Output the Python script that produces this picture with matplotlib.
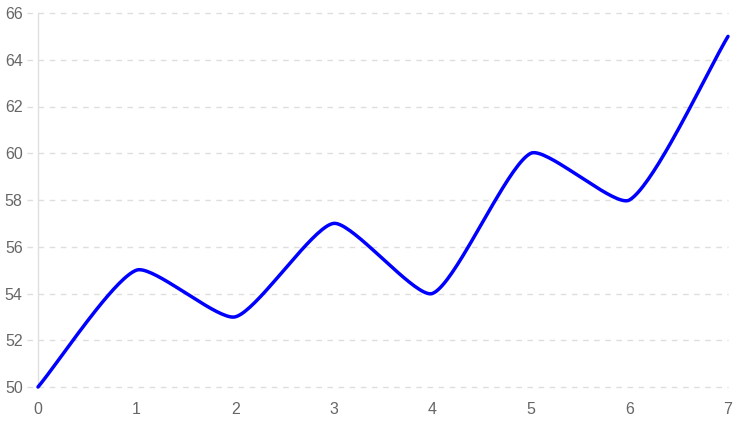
import numpy as np
import matplotlib.pyplot as plt

# Données
x_vals = [0, 1, 2, 3, 4, 5, 6, 7]
y_vals = [50, 55, 53, 57, 54, 60, 58, 65]
y_ticks = [50, 52, 54, 56, 58, 60, 62, 64, 66]

# Taille de la zone de tracé en pixels
W, H = 690, 374
sx, sy = W / 7, H / 16


# Courbe de Bézier façon Chart.js
def bezier_curve(x, y, tension=0.2, n=40):
    px = np.asarray(x, float) * sx
    py = np.asarray(y, float) * sy
    k = len(px)
    c_prev, c_next = [], []
    for i in range(k):
        p0 = (px[max(i - 1, 0)], py[max(i - 1, 0)])
        p1 = (px[i], py[i])
        p2 = (px[min(i + 1, k - 1)], py[min(i + 1, k - 1)])
        d01 = np.hypot(p1[0] - p0[0], p1[1] - p0[1])
        d12 = np.hypot(p2[0] - p1[0], p2[1] - p1[1])
        tot = d01 + d12
        s01 = d01 / tot if tot else 0
        s12 = d12 / tot if tot else 0
        fa, fb = tension * s01, tension * s12
        c_prev.append((p1[0] - fa * (p2[0] - p0[0]), p1[1] - fa * (p2[1] - p0[1])))
        c_next.append((p1[0] + fb * (p2[0] - p0[0]), p1[1] + fb * (p2[1] - p0[1])))
    xs, ys = [], []
    for i in range(k - 1):
        t = np.linspace(0, 1, n)[:, None]
        P0 = np.array([px[i], py[i]])
        P1 = np.array(c_next[i])
        P2 = np.array(c_prev[i + 1])
        P3 = np.array([px[i + 1], py[i + 1]])
        B = (1 - t)**3 * P0 + 3 * (1 - t)**2 * t * P1 + 3 * (1 - t) * t**2 * P2 + t**3 * P3
        xs.append(B[:, 0] / sx)
        ys.append(B[:, 1] / sy)
    return np.concatenate(xs), np.concatenate(ys)


plt.rcParams['font.family'] = ['Liberation Sans', 'DejaVu Sans']

fig = plt.figure(figsize=(7.37, 4.26), dpi=100)
ax = fig.add_axes([38 / 737, 1 - 387 / 426, W / 737, H / 426])

cx, cy = bezier_curve(x_vals, y_vals)
ax.plot(cx, cy, color='#0000ff', linewidth=2.5, solid_capstyle='round', clip_on=False, zorder=3)

ax.set_xlim(0, 7)
ax.set_ylim(50, 66)
ax.set_xticks(x_vals)
ax.set_yticks(y_ticks)

# Grille horizontale en pointillés, prolongée jusqu'aux étiquettes
for yt in y_ticks:
    ax.axhline(yt, xmin=-0.016, xmax=1, color='#dedede', linestyle=(0, (4, 4)),
               linewidth=1, clip_on=False, zorder=1)

for s in ['top', 'right', 'bottom']:
    ax.spines[s].set_visible(False)
ax.spines['left'].set_color('#e0e0e0')
ax.spines['left'].set_linewidth(1)

ax.tick_params(axis='y', length=0, labelcolor='#666666', labelsize=11.5, pad=11)
ax.tick_params(axis='x', length=0, labelcolor='#666666', labelsize=11.5, pad=11)

fig.savefig('out.png', dpi=100)
